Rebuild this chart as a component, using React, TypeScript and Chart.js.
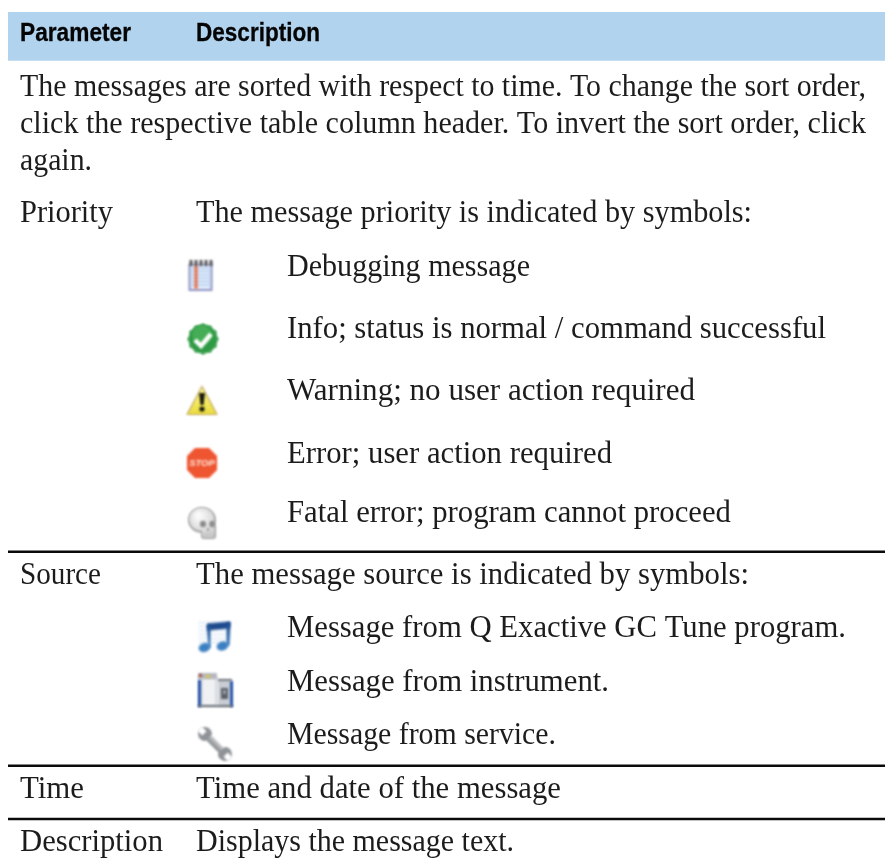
import React, { useEffect, useRef } from "react";
import { Chart, registerables } from "chart.js";

Chart.register(...registerables);

// Header row
const headerLabels = ["Parameter", "Description"];
const headerX = [20, 196];
const headerEnd = [131, 320];
const headerBaseline = 41;

// Table text
const bodyTexts = [
  "The messages are sorted with respect to time. To change the sort order,",
  "click the respective table column header. To invert the sort order, click",
  "again.",
  "Priority",
  "The message priority is indicated by symbols:",
  "Debugging message",
  "Info; status is normal / command successful",
  "Warning; no user action required",
  "Error; user action required",
  "Fatal error; program cannot proceed",
  "Source",
  "The message source is indicated by symbols:",
  "Message from Q Exactive GC Tune program.",
  "Message from instrument.",
  "Message from service.",
  "Time",
  "Time and date of the message",
  "Description",
  "Displays the message text.",
];
const bodyX = [20, 20, 20, 20, 196, 287, 287, 287, 287, 287, 20, 196, 287, 287, 287, 20, 196, 20, 196];
const bodyEnd = [866, 866, 92, 113, 752, 530, 826, 695, 612, 731, 101, 749, 846, 609, 556, 84, 561, 163, 514];
const bodyBaseline = [96, 133, 170, 222, 222, 276, 338, 400, 463, 522, 584, 584, 637, 691, 744, 798, 798, 851, 851];

// Rules and header band
const ruleY = [551.7, 765.7, 819];
const ruleStart = 8;
const ruleEnd = 885;
const bandY = 36.4;

// Symbols
const iconNames = ["notepad", "check", "warning", "stop", "skull", "music", "instrument", "wrench"];
const iconX = [200.5, 203, 202, 202, 204, 214.5, 215, 215];
const iconY = [276, 339, 401, 463, 523, 636.5, 690, 744];

function makeIcon(name: string): HTMLCanvasElement {
  const c = document.createElement("canvas");
  c.width = 44;
  c.height = 44;
  const g = c.getContext("2d")!;
  g.filter = "blur(0.9px)";
  g.translate(22, 22);
  const poly = (pts: number[][], fill: string | CanvasGradient) => {
    g.beginPath();
    pts.forEach(([x, y], i) => (i ? g.lineTo(x, y) : g.moveTo(x, y)));
    g.closePath();
    g.fillStyle = fill;
    g.fill();
  };
  if (name === "notepad") {
    g.fillStyle = "#8f96c4";
    g.fillRect(-12, -12, 24, 27);
    g.fillStyle = "#e6eefa";
    g.fillRect(-10, -11, 20, 24);
    g.strokeStyle = "#a6c4ee";
    g.lineWidth = 1.3;
    for (let y = -8; y < 12; y += 3.4) {
      g.beginPath();
      g.moveTo(-10, y);
      g.lineTo(10, y);
      g.stroke();
    }
    g.fillStyle = "#e8704a";
    g.fillRect(-6, -11, 3, 24);
    g.fillStyle = "#55555a";
    for (let x = -11; x < 12; x += 5) g.fillRect(x, -16, 3, 6);
  } else if (name === "check") {
    g.fillStyle = "#2f9a45";
    for (let a = 0; a < 12; a++) {
      g.beginPath();
      g.arc(14 * Math.cos((a * Math.PI) / 6), 14 * Math.sin((a * Math.PI) / 6), 1.5, 0, Math.PI * 2);
      g.fill();
    }
    g.beginPath();
    g.arc(0, 0, 14.5, 0, Math.PI * 2);
    g.fill();
    g.fillStyle = "#45ad55";
    g.beginPath();
    g.arc(-1, -4, 10, 0, Math.PI * 2);
    g.fill();
    g.strokeStyle = "#ffffff";
    g.lineWidth = 4.5;
    g.beginPath();
    g.moveTo(-8, 1);
    g.lineTo(-2, 7);
    g.lineTo(8, -5);
    g.stroke();
  } else if (name === "warning") {
    poly([[0, -16], [16, 14], [-16, 14]], "#cdb678");
    const grad = g.createLinearGradient(0, -12, 0, 13);
    grad.addColorStop(0, "#fff68a");
    grad.addColorStop(1, "#e9dc3c");
    poly([[0, -13], [14, 13], [-14, 13]], grad);
    g.fillStyle = "#17170f";
    poly([[-3, -8], [3, -8], [1.5, 4], [-1.5, 4]], "#17170f");
    g.beginPath();
    g.arc(0, 8, 2.6, 0, Math.PI * 2);
    g.fill();
  } else if (name === "stop") {
    poly([[-7, -15], [7, -15], [15, -7], [15, 7], [7, 15], [-7, 15], [-15, 7], [-15, -7]], "#ee5530");
    g.fillStyle = "#ffe9e0";
    g.font = 'bold italic 9.5px "Liberation Sans"';
    g.textAlign = "center";
    g.textBaseline = "middle";
    g.fillText("STOP", 0, 0);
  } else if (name === "skull") {
    g.fillStyle = "#a9a9a9";
    g.beginPath();
    g.ellipse(-2, -3, 14, 13, 0, 0, Math.PI * 2);
    g.fill();
    g.beginPath();
    g.roundRect(-3, 1, 15, 15, 3);
    g.fill();
    const grad = g.createRadialGradient(-6, -8, 2, -2, -3, 14);
    grad.addColorStop(0, "#fafafa");
    grad.addColorStop(1, "#d4d4d4");
    g.fillStyle = grad;
    g.beginPath();
    g.ellipse(-2.5, -4, 12.5, 11.5, 0, 0, Math.PI * 2);
    g.fill();
    g.beginPath();
    g.roundRect(-2, 2, 12.5, 12.5, 3);
    g.fill();
    g.fillStyle = "#8a8a8a";
    g.beginPath();
    g.ellipse(-1, 1, 3, 3.2, 0, 0, Math.PI * 2);
    g.ellipse(8, 1, 2.6, 3.2, 0, 0, Math.PI * 2);
    g.fill();
    g.fillStyle = "#a0a0a0";
    g.fillRect(3, 5, 2, 3);
    g.fillStyle = "#b5b5b5";
    for (let x = 0; x < 10; x += 3) g.fillRect(x, 10, 1.2, 4);
  } else if (name === "music") {
    g.strokeStyle = "#dbe8f5";
    g.lineWidth = 1.5;
    for (let y = -14; y < 10; y += 4) {
      g.beginPath();
      g.moveTo(-16, y);
      g.lineTo(15, y);
      g.stroke();
    }
    const grad = g.createLinearGradient(0, -15, 0, 15);
    grad.addColorStop(0, "#1d4a8c");
    grad.addColorStop(1, "#4288c8");
    poly([[-7, -13], [16, -15], [15, -8], [-7, -6]], "#1d4a8c");
    poly([[-8, -12], [-4, -12], [-4, 11], [-6, 11]], grad);
    poly([[12, -14], [16, -14], [15, 9], [12, 9]], grad);
    g.fillStyle = "#3c80c2";
    g.beginPath();
    g.ellipse(-10, 11, 6, 4.5, -0.3, 0, Math.PI * 2);
    g.ellipse(8, 9.5, 6, 4.5, -0.3, 0, Math.PI * 2);
    g.fill();
  } else if (name === "instrument") {
    g.fillStyle = "#d8dce2";
    g.fillRect(-17, -13, 20, 30);
    g.fillStyle = "#f0f1f3";
    g.fillRect(-12, -11, 12, 26);
    g.fillStyle = "#b6b8bd";
    g.fillRect(-17, -17, 19, 6);
    g.fillStyle = "#b2524c";
    g.fillRect(-16, -16, 3, 3);
    g.fillStyle = "#d6c75a";
    g.fillRect(-9, -15, 4, 3);
    g.fillStyle = "#2450a8";
    g.fillRect(-17, -10, 3, 27);
    g.fillStyle = "#c9cdd3";
    g.fillRect(3, -10, 13, 27);
    g.fillStyle = "#2450a8";
    g.fillRect(15, -9, 3, 26);
    g.fillStyle = "#6e747c";
    g.fillRect(3, -11, 14, 2);
    g.fillRect(-17, 15, 35, 2);
    g.fillStyle = "#5c626a";
    g.fillRect(6, -2, 7, 11);
    g.fillStyle = "#9aa0a8";
    g.fillRect(8, 0, 3, 4);
  } else {
    g.rotate(Math.PI / 4);
    const grad = g.createLinearGradient(0, -4, 0, 4);
    grad.addColorStop(0, "#d0d2d4");
    grad.addColorStop(1, "#7f8285");
    g.fillStyle = grad;
    g.fillRect(-13, -3.5, 26, 7);
    g.fillStyle = "#8f9296";
    g.beginPath();
    g.arc(-14, 0, 7, 0.8, Math.PI * 2 - 0.8, false);
    g.lineTo(-9, 0);
    g.closePath();
    g.fill();
    g.beginPath();
    g.arc(14, 0, 7, Math.PI + 0.8, Math.PI - 0.8, false);
    g.lineTo(9, 0);
    g.closePath();
    g.fill();
    g.globalCompositeOperation = "destination-out";
    g.fillRect(-22, -3, 7, 6);
    g.fillRect(15, -3, 7, 6);
    g.globalCompositeOperation = "source-over";
  }
  return c;
}

const drawFitted = (
  ctx: CanvasRenderingContext2D,
  text: string,
  x: number,
  end: number,
  y: number,
  heavy = false,
) => {
  const w = ctx.measureText(text).width;
  ctx.save();
  ctx.translate(x, y);
  ctx.scale((end - x) / w, 1);
  ctx.fillText(text, 0, 0);
  if (heavy) ctx.strokeText(text, 0, 0);
  ctx.restore();
};

const tableText = {
  id: "tableText",
  afterDatasetsDraw(chart: any) {
    const { ctx, scales } = chart;
    ctx.save();
    ctx.textBaseline = "alphabetic";
    ctx.textAlign = "left";
    ctx.filter = "blur(0.35px)";
    ctx.fillStyle = "#050505";
    ctx.strokeStyle = "#050505";
    ctx.lineWidth = 0.3;
    ctx.font = 'bold 25px "Liberation Sans Narrow", "Liberation Sans"';
    headerLabels.forEach((t, i) =>
      drawFitted(ctx, t, scales.x.getPixelForValue(headerX[i]), scales.x.getPixelForValue(headerEnd[i]), scales.y.getPixelForValue(headerBaseline), true),
    );
    ctx.fillStyle = "#1c1c1c";
    ctx.font = '32px "Liberation Serif"';
    bodyTexts.forEach((t, i) =>
      drawFitted(ctx, t, scales.x.getPixelForValue(bodyX[i]), scales.x.getPixelForValue(bodyEnd[i]), scales.y.getPixelForValue(bodyBaseline[i])),
    );
    ctx.restore();
  },
};

export default function App() {
  const ref = useRef<HTMLCanvasElement>(null);
  useEffect(() => {
    const icons = iconNames.map(makeIcon);
    const chart = new Chart(ref.current!, {
      type: "scatter",
      data: {
        datasets: [
          {
            label: "band",
            data: [
              { x: ruleStart, y: bandY },
              { x: ruleEnd, y: bandY },
            ],
            showLine: true,
            borderColor: "#b1d3ee",
            borderWidth: 48.7,
            borderCapStyle: "butt",
            pointRadius: 0,
          },
          ...ruleY.map((y) => ({
            label: "rule",
            data: [
              { x: ruleStart, y },
              { x: ruleEnd, y },
            ],
            showLine: true,
            borderColor: "#0a0a0a",
            borderWidth: 2.5,
            borderCapStyle: "butt" as const,
            pointRadius: 0,
          })),
          {
            label: "symbols",
            data: iconX.map((x, i) => ({ x, y: iconY[i] })),
            pointStyle: icons,
            pointRadius: 22,
            showLine: false,
          },
        ],
      } as any,
      options: {
        animation: false,
        responsive: false,
        events: [],
        layout: { padding: 0, autoPadding: false },
        plugins: { legend: { display: false }, tooltip: { enabled: false } },
        scales: {
          x: { type: "linear", display: false, min: 0, max: 885 },
          y: { type: "linear", display: false, min: 0, max: 866, reverse: true },
        },
      },
      plugins: [tableText],
    });
    return () => chart.destroy();
  }, []);
  return (
    <canvas
      ref={ref}
      width={885}
      height={866}
      style={{ position: "absolute", left: 0, top: 0, display: "block" }}
    />
  );
}
